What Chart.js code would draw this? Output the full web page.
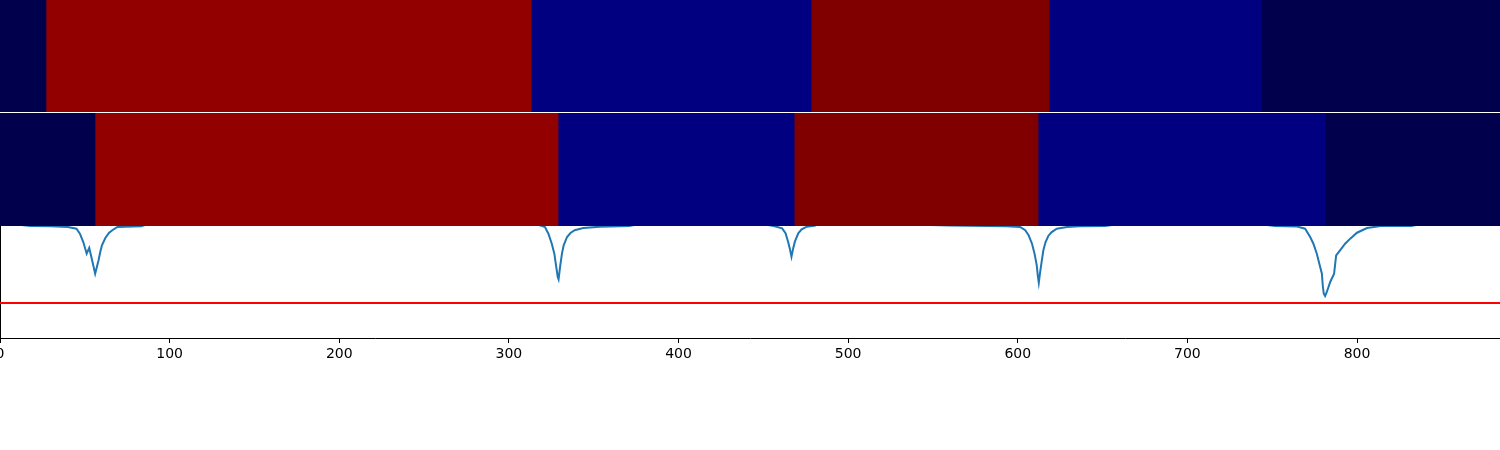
<!DOCTYPE html>
<html>
<head>
<meta charset="utf-8">
<script src="https://cdn.jsdelivr.net/npm/chart.js@4/dist/chart.umd.min.js"></script>
<style>
  body { margin: 0; background: #fff; }
  #wrap { position: relative; width: 1500px; height: 450px; }
  canvas { position: absolute; left: 0; }
  #lineChart { top: 0; z-index: 1; }
  #row1 { top: 0; z-index: 2; }
  #row2 { top: 113px; z-index: 2; }
</style>
</head>
<body>
<div id="wrap">
  <canvas id="lineChart" width="1500" height="450"></canvas>
  <canvas id="row1" width="1500" height="112"></canvas>
  <canvas id="row2" width="1500" height="113"></canvas>
</div>
<script>
const xMax = 884.3;
const xTicks = [0, 100, 200, 300, 400, 500, 600, 700, 800];

// segment edges of the two state rows
const row1Edges = [0, 27.1, 313.1, 478.2, 618.5, 743.5, 884.3];
const row2Edges = [0, 56, 329, 468.2, 612, 781.2, 884.3];
const segmentColors = ["#00004d", "#920000", "#000080", "#800000", "#000080", "#00004d"];

// curve (values above 1 sit under the second row)
const curveX = [
  0, 18, 30, 40, 45.1, 47.1, 49.1, 51.1, 52.6, 54.1, 56.1, 58.1, 59.1, 60.1, 62.1, 64.2, 66.2, 69.2, 83.2, 90,
  310, 318.8, 321.3, 323.3, 325.3, 326.8, 327.8, 328.8, 329.3, 330.3, 331.3, 332.3, 334.3, 336.3, 338.8, 343.8, 353.8, 370.9, 380,
  445, 456.1, 461.1, 463.1, 464.6, 465.6, 466.6, 467.6, 468.6, 470.6, 472.6, 475.6, 480.1, 486,
  560, 593.4, 601.4, 604.4, 606.4, 608.4, 609.9, 611.2, 611.8, 612.4, 613.2, 614.2, 615.1, 616.4, 618, 620, 623, 629, 636.5, 651.5, 665,
  735, 751.8, 764.8, 769.4, 772.4, 774.3, 776.3, 777.8, 779.3, 779.8, 780.4, 781.2, 782.2, 784.2, 786.5, 787.7, 790, 793, 796, 800, 805.9, 813.9, 831.9, 842, 884.3
];
const curveY = [
  1.03, 1.0, 0.997, 0.99, 0.976, 0.931, 0.857, 0.753, 0.804, 0.708, 0.574, 0.694, 0.768, 0.828, 0.893, 0.9375, 0.962, 0.991, 0.998, 1.03,
  1.03, 1.005, 0.991, 0.931, 0.842, 0.753, 0.649, 0.545, 0.524, 0.649, 0.753, 0.828, 0.902, 0.9375, 0.962, 0.982, 0.994, 0.999, 1.03,
  1.03, 1.0, 0.979, 0.935, 0.86, 0.8, 0.726, 0.8, 0.86, 0.935, 0.97, 0.994, 1.003, 1.03,
  1.005, 0.998, 0.991, 0.962, 0.917, 0.842, 0.753, 0.649, 0.56, 0.494, 0.589, 0.694, 0.783, 0.857, 0.911, 0.946, 0.976, 0.991, 0.997, 1.0, 1.03,
  1.03, 1.0, 0.995, 0.976, 0.902, 0.842, 0.753, 0.663, 0.574, 0.471, 0.396, 0.375, 0.411, 0.5, 0.574, 0.738, 0.783, 0.842, 0.887, 0.94, 0.982, 1.0, 1.0, 1.03, 1.03
];
const threshold = 0.3125;

Chart.defaults.font.family = "'DejaVu Sans', sans-serif";
Chart.defaults.animation = false;

function rowChart(id, edges) {
  const datasets = segmentColors.map((color, i) => ({
    data: [[edges[i], edges[i + 1]]],
    backgroundColor: color,
    borderWidth: 0,
    grouped: false,
    categoryPercentage: 1,
    barPercentage: 1,
  }));
  return new Chart(document.getElementById(id), {
    type: "bar",
    data: { labels: ["state"], datasets },
    options: {
      responsive: false,
      indexAxis: "y",
      layout: { padding: 0 },
      plugins: { legend: { display: false }, tooltip: { enabled: false } },
      scales: {
        x: { type: "linear", min: 0, max: xMax, display: false },
        y: { display: false },
      },
    },
  });
}

rowChart("row1", row1Edges);
rowChart("row2", row2Edges);

new Chart(document.getElementById("lineChart"), {
  type: "line",
  data: {
    datasets: [
      {
        data: curveX.map((x, i) => ({ x, y: curveY[i] })),
        borderColor: "#1f77b4",
        borderWidth: 2,
        pointRadius: 0,
        tension: 0,
        clip: 0,
      },
      {
        data: [{ x: 0, y: threshold }, { x: xMax, y: threshold }],
        borderColor: "#ff0000",
        borderWidth: 2,
        pointRadius: 0,
        clip: 0,
      },
    ],
  },
  options: {
    responsive: false,
    layout: { padding: { top: 226, left: 0, right: 0, bottom: 0 } },
    plugins: { legend: { display: false }, tooltip: { enabled: false } },
    scales: {
      x: {
        type: "linear",
        min: 0,
        max: xMax,
        afterBuildTicks: (s) => { s.ticks = xTicks.map((v) => ({ value: v })); },
        afterFit: (s) => { s.height = 112; s.paddingLeft = 0; s.paddingRight = 0; },
        ticks: { color: "#000", font: { size: 14 }, padding: 3, maxRotation: 0, autoSkip: false },
        grid: { drawOnChartArea: false, tickLength: 5, tickColor: "#000", tickWidth: 1 },
        border: { color: "#000", width: 1 },
      },
      y: {
        min: 0,
        max: 1,
        ticks: { display: false },
        grid: { display: false, drawTicks: false },
        border: { display: true, color: "#000", width: 1 },
        afterFit: (s) => { s.width = 0; },
      },
    },
  },
});
</script>
</body>
</html>
